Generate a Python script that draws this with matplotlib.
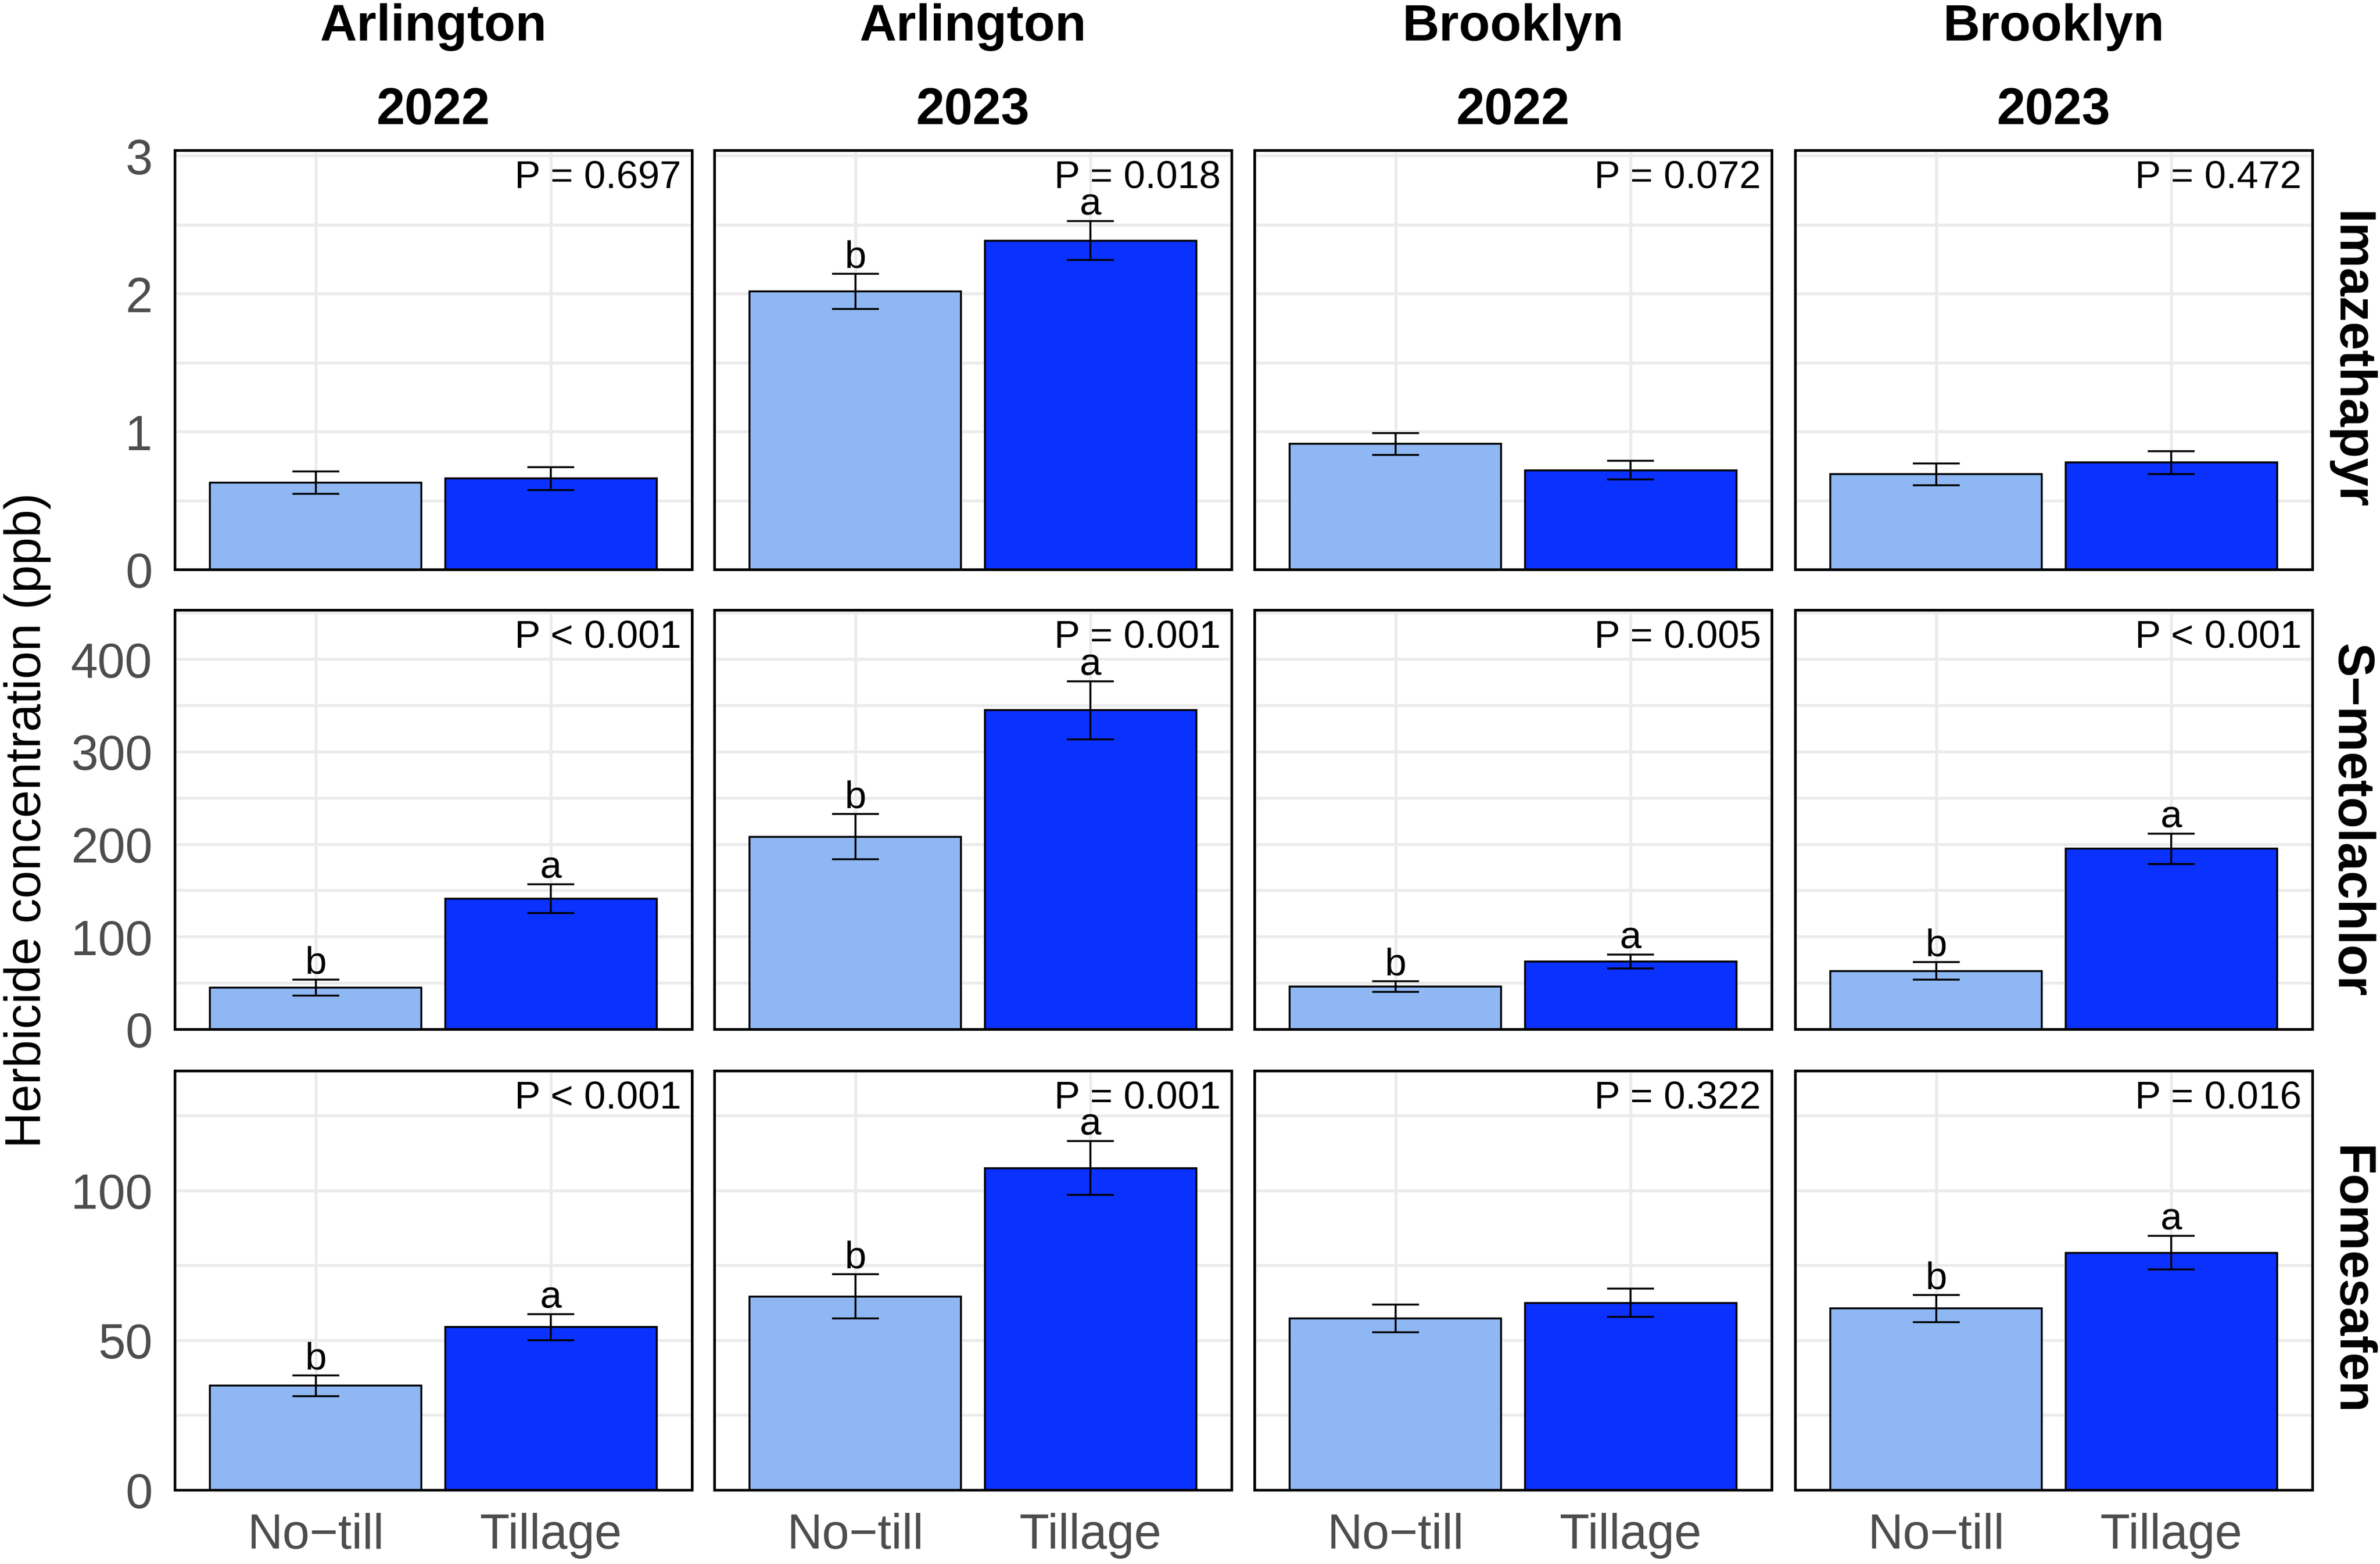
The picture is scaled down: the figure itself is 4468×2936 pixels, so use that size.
import matplotlib
matplotlib.use("Agg")
import matplotlib.pyplot as plt
from matplotlib.ticker import MultipleLocator

plt.rcParams['font.family'] = ['Liberation Sans', 'DejaVu Sans']

# data
sites = ['Arlington', 'Arlington', 'Brooklyn', 'Brooklyn']
years = ['2022', '2023', '2022', '2023']
herbicides = ['Imazethapyr', 'S\u2212metolachlor', 'Fomesafen']
treatments = ['No\u2212till', 'Tillage']

imaz_notill = [0.63, 2.015, 0.91, 0.69]
imaz_notill_se = [0.08, 0.128, 0.078, 0.08]
imaz_till = [0.66, 2.385, 0.72, 0.775]
imaz_till_se = [0.083, 0.14, 0.069, 0.083]

smet_notill = [45, 208, 46, 63]
smet_notill_se = [8.7, 24.6, 5.9, 9.5]
smet_till = [141, 344.5, 73, 195]
smet_till_se = [15.6, 31.5, 7.3, 16.5]

fome_notill = [34.8, 64.6, 57.3, 60.6]
fome_notill_se = [3.5, 7.4, 4.6, 4.5]
fome_till = [54.4, 107.5, 62.5, 79.2]
fome_till_se = [4.35, 9.0, 4.75, 5.6]

p_imaz = ['P = 0.697', 'P = 0.018', 'P = 0.072', 'P = 0.472']
p_smet = ['P < 0.001', 'P = 0.001', 'P = 0.005', 'P < 0.001']
p_fome = ['P < 0.001', 'P = 0.001', 'P = 0.322', 'P = 0.016']

letters_imaz = [None, ('b', 'a'), None, None]
letters_smet = [('b', 'a'), ('b', 'a'), ('b', 'a'), ('b', 'a')]
letters_fome = [('b', 'a'), ('b', 'a'), None, ('b', 'a')]

y_max = [3.04, 453, 140]
y_step = [1, 100, 50]

rows = [
    (imaz_notill, imaz_notill_se, imaz_till, imaz_till_se, p_imaz, letters_imaz),
    (smet_notill, smet_notill_se, smet_till, smet_till_se, p_smet, letters_smet),
    (fome_notill, fome_notill_se, fome_till, fome_till_se, p_fome, letters_fome),
]

colors = ['#8FB7F4', '#0B31FF']
tick_color = '#4D4D4D'

W, H = 4468, 2937
fig = plt.figure(figsize=(W / 300, H / 300), dpi=300)

col_left = [328, 1341, 2355, 3370]
panel_w = 971
row_top = [283, 1146, 2011]
panel_h = 787

for r, (m1, s1, m2, s2, pvals, letters) in enumerate(rows):
    for c in range(4):
        ax = fig.add_axes([col_left[c] / W, 1 - (row_top[r] + panel_h) / H,
                           panel_w / W, panel_h / H])
        means = [m1[c], m2[c]]
        ses = [s1[c], s2[c]]
        x = [1, 2]
        ax.bar(x, means, width=0.9, color=colors, edgecolor='black',
               linewidth=0.85, zorder=2)
        ax.errorbar(x, means, yerr=ses, fmt='none', ecolor='black',
                    elinewidth=0.85, capsize=10.5, capthick=0.85, zorder=3)
        if letters[c] is not None:
            for xi, mi, si, lab in zip(x, means, ses, letters[c]):
                ax.annotate(lab, (xi, mi + si), xytext=(0, 3.0),
                            textcoords='offset points', ha='center',
                            va='baseline', fontsize=17.5, zorder=4)
        ax.annotate(pvals[c], (1, 1), xycoords='axes fraction',
                    xytext=(-4.8, -16.6), textcoords='offset points',
                    ha='right', va='baseline', fontsize=17.5)

        ax.set_xlim(0.4, 2.6)
        ax.set_ylim(0, y_max[r])
        ax.set_xticks(x)
        ax.yaxis.set_major_locator(MultipleLocator(y_step[r]))
        ax.yaxis.set_minor_locator(MultipleLocator(y_step[r] / 2))
        ax.set_axisbelow(True)
        ax.grid(which='major', color='#EBEBEB', linewidth=1.3)
        ax.grid(which='minor', axis='y', color='#EBEBEB', linewidth=1.3)
        ax.tick_params(which='both', length=0, labelsize=22,
                       labelcolor=tick_color, pad=10)
        for sp in ax.spines.values():
            sp.set_linewidth(1.2)
            sp.set_color('black')

        if r == 2:
            ax.set_xticklabels(treatments)
        else:
            ax.set_xticklabels([])
        if c != 0:
            ax.set_yticklabels([])

        if r == 0:
            cx = (col_left[c] + panel_w / 2) / W
            fig.text(cx, 1 - 51 / H, sites[c], ha='center', va='center',
                     fontsize=23, fontweight='bold')
            fig.text(cx, 1 - 208 / H, years[c], ha='center', va='center',
                     fontsize=23, fontweight='bold')
        if c == 3:
            cy = 1 - (row_top[r] + panel_h / 2) / H
            fig.text(4412 / W, cy, herbicides[r], ha='center', va='center',
                     rotation=-90, fontsize=23, fontweight='bold')

fig.text(52 / W, 1 - 1540 / H, 'Herbicide concentration (ppb)', ha='center',
         va='center', rotation=90, fontsize=22.5)

fig.savefig('out.png', dpi=300, facecolor='white')
